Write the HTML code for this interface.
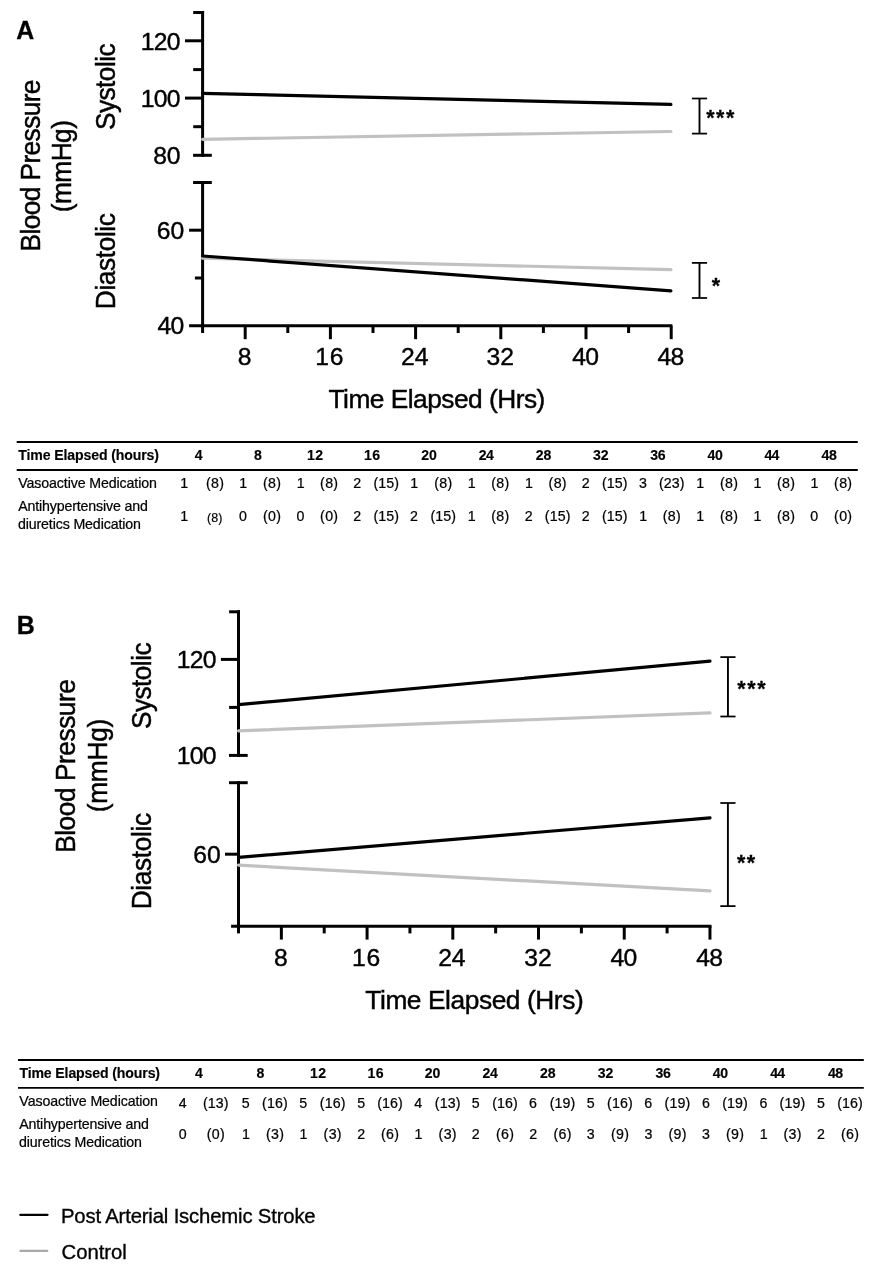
<!DOCTYPE html>
<html lang="en"><head><meta charset="utf-8"><title>Figure</title>
<style>html,body{margin:0;padding:0;background:#fff}svg{display:block}text{white-space:pre}</style>
</head><body>
<svg width="896" height="1276" viewBox="0 0 896 1276" font-family="'Liberation Sans', sans-serif" fill="#000">
<rect width="896" height="1276" fill="#fff"/>
<g opacity="0.999">
<text x="16.28" y="38.80" font-size="24.9" font-weight="bold" fill="#000" stroke="#000" stroke-width="0.30">A</text>
<line x1="202.60" y1="11.00" x2="202.60" y2="156.80" stroke="#000" stroke-width="3.0" stroke-linecap="butt"/>
<line x1="193.20" y1="12.50" x2="204.10" y2="12.50" stroke="#000" stroke-width="3.0" stroke-linecap="butt"/>
<line x1="193.10" y1="155.30" x2="211.80" y2="155.30" stroke="#000" stroke-width="3.0" stroke-linecap="butt"/>
<line x1="185.00" y1="40.80" x2="202.60" y2="40.80" stroke="#000" stroke-width="3.0" stroke-linecap="butt"/>
<line x1="185.00" y1="98.10" x2="202.60" y2="98.10" stroke="#000" stroke-width="3.0" stroke-linecap="butt"/>
<line x1="193.20" y1="69.60" x2="202.60" y2="69.60" stroke="#000" stroke-width="3.0" stroke-linecap="butt"/>
<line x1="193.20" y1="126.70" x2="202.60" y2="126.70" stroke="#000" stroke-width="3.0" stroke-linecap="butt"/>
<line x1="202.60" y1="181.00" x2="202.60" y2="327.30" stroke="#000" stroke-width="3.0" stroke-linecap="butt"/>
<line x1="193.10" y1="182.50" x2="211.80" y2="182.50" stroke="#000" stroke-width="3.0" stroke-linecap="butt"/>
<line x1="189.10" y1="230.20" x2="202.60" y2="230.20" stroke="#000" stroke-width="3.0" stroke-linecap="butt"/>
<line x1="194.90" y1="278.00" x2="202.60" y2="278.00" stroke="#000" stroke-width="3.0" stroke-linecap="butt"/>
<line x1="189.10" y1="325.80" x2="672.40" y2="325.80" stroke="#000" stroke-width="3.0" stroke-linecap="butt"/>
<line x1="202.60" y1="325.80" x2="202.60" y2="333.00" stroke="#000" stroke-width="3.0" stroke-linecap="butt"/>
<line x1="245.20" y1="325.80" x2="245.20" y2="339.20" stroke="#000" stroke-width="3.0" stroke-linecap="butt"/>
<text x="237.73" y="364.85" font-size="24.7" stroke="#000" stroke-width="0.42">8</text>
<line x1="287.80" y1="325.80" x2="287.80" y2="333.00" stroke="#000" stroke-width="3.0" stroke-linecap="butt"/>
<line x1="330.40" y1="325.80" x2="330.40" y2="339.20" stroke="#000" stroke-width="3.0" stroke-linecap="butt"/>
<text x="315.27" y="364.85" font-size="24.7" letter-spacing="0.793" stroke="#000" stroke-width="0.42">16</text>
<line x1="373.00" y1="325.80" x2="373.00" y2="333.00" stroke="#000" stroke-width="3.0" stroke-linecap="butt"/>
<line x1="415.60" y1="325.80" x2="415.60" y2="339.20" stroke="#000" stroke-width="3.0" stroke-linecap="butt"/>
<text x="401.11" y="364.85" font-size="24.7" letter-spacing="-0.208" stroke="#000" stroke-width="0.42">24</text>
<line x1="458.20" y1="325.80" x2="458.20" y2="333.00" stroke="#000" stroke-width="3.0" stroke-linecap="butt"/>
<line x1="500.80" y1="325.80" x2="500.80" y2="339.20" stroke="#000" stroke-width="3.0" stroke-linecap="butt"/>
<text x="486.61" y="364.85" font-size="24.7" letter-spacing="0.009" stroke="#000" stroke-width="0.42">32</text>
<line x1="543.40" y1="325.80" x2="543.40" y2="333.00" stroke="#000" stroke-width="3.0" stroke-linecap="butt"/>
<line x1="586.00" y1="325.80" x2="586.00" y2="339.20" stroke="#000" stroke-width="3.0" stroke-linecap="butt"/>
<text x="572.18" y="364.85" font-size="24.7" letter-spacing="-0.642" stroke="#000" stroke-width="0.42">40</text>
<line x1="628.60" y1="325.80" x2="628.60" y2="333.00" stroke="#000" stroke-width="3.0" stroke-linecap="butt"/>
<line x1="671.20" y1="325.80" x2="671.20" y2="339.20" stroke="#000" stroke-width="3.0" stroke-linecap="butt"/>
<text x="657.38" y="364.85" font-size="24.7" letter-spacing="-0.534" stroke="#000" stroke-width="0.42">48</text>
<text x="140.82" y="50.00" font-size="24.7" letter-spacing="-0.732" stroke="#000" stroke-width="0.42">120</text>
<text x="140.82" y="107.00" font-size="24.7" letter-spacing="-0.732" stroke="#000" stroke-width="0.42">100</text>
<text x="153.23" y="164.00" font-size="24.7" letter-spacing="-0.136" stroke="#000" stroke-width="0.42">80</text>
<text x="156.75" y="239.10" font-size="24.7" letter-spacing="0.045" stroke="#000" stroke-width="0.42">60</text>
<text x="157.43" y="333.70" font-size="24.7" letter-spacing="-0.642" stroke="#000" stroke-width="0.42">40</text>
<line x1="202.60" y1="139.30" x2="670.90" y2="131.50" stroke="#c1c1c1" stroke-width="3.2" stroke-linecap="round"/>
<line x1="202.60" y1="93.40" x2="670.90" y2="104.40" stroke="#000" stroke-width="3.2" stroke-linecap="round"/>
<line x1="202.60" y1="258.20" x2="670.90" y2="269.70" stroke="#c1c1c1" stroke-width="3.2" stroke-linecap="round"/>
<line x1="202.60" y1="256.00" x2="670.90" y2="290.90" stroke="#000" stroke-width="3.2" stroke-linecap="round"/>
<line x1="699.50" y1="98.50" x2="699.50" y2="133.60" stroke="#000" stroke-width="1.9" stroke-linecap="butt"/>
<line x1="691.90" y1="98.50" x2="707.10" y2="98.50" stroke="#000" stroke-width="1.75" stroke-linecap="butt"/>
<line x1="691.90" y1="133.60" x2="707.10" y2="133.60" stroke="#000" stroke-width="1.75" stroke-linecap="butt"/>
<line x1="699.50" y1="262.90" x2="699.50" y2="298.00" stroke="#000" stroke-width="1.9" stroke-linecap="butt"/>
<line x1="691.90" y1="262.90" x2="707.10" y2="262.90" stroke="#000" stroke-width="1.75" stroke-linecap="butt"/>
<line x1="691.90" y1="298.00" x2="707.10" y2="298.00" stroke="#000" stroke-width="1.75" stroke-linecap="butt"/>
<text x="706.24" y="124.80" font-size="21.5" font-weight="bold" letter-spacing="1.492" fill="#000" stroke="#000" stroke-width="0.26">***</text>
<text x="711.74" y="293.20" font-size="21.5" font-weight="bold" fill="#000" stroke="#000" stroke-width="0.26">*</text>
<text x="328.51" y="407.50" font-size="26.3" letter-spacing="-0.513" fill="#000" stroke="#000" stroke-width="0.45">Time Elapsed (Hrs)</text>
<text transform="translate(115.10,129.99) rotate(-90) scale(1,1.065)" font-size="26.3" letter-spacing="-0.575" stroke="#000" stroke-width="0.45">Systolic</text>
<text transform="translate(115.30,309.16) rotate(-90) scale(1,1.065)" font-size="26.3" letter-spacing="-0.404" stroke="#000" stroke-width="0.45">Diastolic</text>
<text transform="translate(40.00,251.46) rotate(-90) scale(1,1.065)" font-size="26.3" letter-spacing="-0.599" stroke="#000" stroke-width="0.45">Blood Pressure</text>
<text transform="translate(71.10,212.23) rotate(-90) scale(1,1.065)" font-size="26.3" letter-spacing="-0.558" stroke="#000" stroke-width="0.45">(mmHg)</text>
<text x="16.73" y="633.90" font-size="25.0" font-weight="bold" fill="#000" stroke="#000" stroke-width="0.30">B</text>
<line x1="238.50" y1="610.30" x2="238.50" y2="756.90" stroke="#000" stroke-width="3.0" stroke-linecap="butt"/>
<line x1="229.10" y1="611.80" x2="240.00" y2="611.80" stroke="#000" stroke-width="3.0" stroke-linecap="butt"/>
<line x1="229.00" y1="755.40" x2="247.70" y2="755.40" stroke="#000" stroke-width="3.0" stroke-linecap="butt"/>
<line x1="220.90" y1="659.40" x2="238.50" y2="659.40" stroke="#000" stroke-width="3.0" stroke-linecap="butt"/>
<line x1="229.10" y1="707.40" x2="238.50" y2="707.40" stroke="#000" stroke-width="3.0" stroke-linecap="butt"/>
<line x1="238.50" y1="781.20" x2="238.50" y2="927.70" stroke="#000" stroke-width="3.0" stroke-linecap="butt"/>
<line x1="229.00" y1="782.70" x2="247.70" y2="782.70" stroke="#000" stroke-width="3.0" stroke-linecap="butt"/>
<line x1="225.00" y1="854.20" x2="238.50" y2="854.20" stroke="#000" stroke-width="3.0" stroke-linecap="butt"/>
<line x1="231.10" y1="926.20" x2="711.50" y2="926.20" stroke="#000" stroke-width="3.0" stroke-linecap="butt"/>
<line x1="238.50" y1="926.20" x2="238.50" y2="933.40" stroke="#000" stroke-width="3.0" stroke-linecap="butt"/>
<line x1="281.36" y1="926.20" x2="281.36" y2="939.60" stroke="#000" stroke-width="3.0" stroke-linecap="butt"/>
<text x="273.89" y="965.70" font-size="24.7" stroke="#000" stroke-width="0.42">8</text>
<line x1="324.22" y1="926.20" x2="324.22" y2="933.40" stroke="#000" stroke-width="3.0" stroke-linecap="butt"/>
<line x1="367.08" y1="926.20" x2="367.08" y2="939.60" stroke="#000" stroke-width="3.0" stroke-linecap="butt"/>
<text x="351.95" y="965.70" font-size="24.7" letter-spacing="0.793" stroke="#000" stroke-width="0.42">16</text>
<line x1="409.94" y1="926.20" x2="409.94" y2="933.40" stroke="#000" stroke-width="3.0" stroke-linecap="butt"/>
<line x1="452.80" y1="926.20" x2="452.80" y2="939.60" stroke="#000" stroke-width="3.0" stroke-linecap="butt"/>
<text x="438.31" y="965.70" font-size="24.7" letter-spacing="-0.208" stroke="#000" stroke-width="0.42">24</text>
<line x1="495.66" y1="926.20" x2="495.66" y2="933.40" stroke="#000" stroke-width="3.0" stroke-linecap="butt"/>
<line x1="538.52" y1="926.20" x2="538.52" y2="939.60" stroke="#000" stroke-width="3.0" stroke-linecap="butt"/>
<text x="524.33" y="965.70" font-size="24.7" letter-spacing="0.009" stroke="#000" stroke-width="0.42">32</text>
<line x1="581.38" y1="926.20" x2="581.38" y2="933.40" stroke="#000" stroke-width="3.0" stroke-linecap="butt"/>
<line x1="624.24" y1="926.20" x2="624.24" y2="939.60" stroke="#000" stroke-width="3.0" stroke-linecap="butt"/>
<text x="610.42" y="965.70" font-size="24.7" letter-spacing="-0.642" stroke="#000" stroke-width="0.42">40</text>
<line x1="667.10" y1="926.20" x2="667.10" y2="933.40" stroke="#000" stroke-width="3.0" stroke-linecap="butt"/>
<line x1="709.96" y1="926.20" x2="709.96" y2="939.60" stroke="#000" stroke-width="3.0" stroke-linecap="butt"/>
<text x="696.14" y="965.70" font-size="24.7" letter-spacing="-0.534" stroke="#000" stroke-width="0.42">48</text>
<text x="176.72" y="668.00" font-size="24.7" letter-spacing="-0.732" stroke="#000" stroke-width="0.42">120</text>
<text x="176.72" y="763.90" font-size="24.7" letter-spacing="-0.732" stroke="#000" stroke-width="0.42">100</text>
<text x="193.15" y="863.10" font-size="24.7" letter-spacing="0.045" stroke="#000" stroke-width="0.42">60</text>
<line x1="238.50" y1="730.80" x2="710.00" y2="712.90" stroke="#c1c1c1" stroke-width="3.2" stroke-linecap="round"/>
<line x1="238.50" y1="704.70" x2="710.00" y2="661.20" stroke="#000" stroke-width="3.2" stroke-linecap="round"/>
<line x1="238.50" y1="865.20" x2="710.00" y2="890.90" stroke="#c1c1c1" stroke-width="3.2" stroke-linecap="round"/>
<line x1="238.50" y1="857.40" x2="710.00" y2="817.80" stroke="#000" stroke-width="3.2" stroke-linecap="round"/>
<line x1="727.95" y1="657.10" x2="727.95" y2="716.50" stroke="#000" stroke-width="1.9" stroke-linecap="butt"/>
<line x1="720.35" y1="657.10" x2="735.55" y2="657.10" stroke="#000" stroke-width="1.75" stroke-linecap="butt"/>
<line x1="720.35" y1="716.50" x2="735.55" y2="716.50" stroke="#000" stroke-width="1.75" stroke-linecap="butt"/>
<line x1="727.90" y1="803.00" x2="727.90" y2="906.10" stroke="#000" stroke-width="1.9" stroke-linecap="butt"/>
<line x1="720.30" y1="803.00" x2="735.50" y2="803.00" stroke="#000" stroke-width="1.75" stroke-linecap="butt"/>
<line x1="720.30" y1="906.10" x2="735.50" y2="906.10" stroke="#000" stroke-width="1.75" stroke-linecap="butt"/>
<text x="737.24" y="695.80" font-size="21.5" font-weight="bold" letter-spacing="1.592" fill="#000" stroke="#000" stroke-width="0.26">***</text>
<text x="737.04" y="869.50" font-size="21.5" font-weight="bold" letter-spacing="1.450" fill="#000" stroke="#000" stroke-width="0.26">**</text>
<text x="365.31" y="1009.00" font-size="26.3" letter-spacing="-0.419" fill="#000" stroke="#000" stroke-width="0.45">Time Elapsed (Hrs)</text>
<text transform="translate(151.30,729.09) rotate(-90) scale(1,1.065)" font-size="26.3" letter-spacing="-0.561" stroke="#000" stroke-width="0.45">Systolic</text>
<text transform="translate(151.30,909.26) rotate(-90) scale(1,1.065)" font-size="26.3" letter-spacing="-0.379" stroke="#000" stroke-width="0.45">Diastolic</text>
<text transform="translate(74.90,852.86) rotate(-90) scale(1,1.065)" font-size="26.3" letter-spacing="-0.460" stroke="#000" stroke-width="0.45">Blood Pressure</text>
<text transform="translate(106.60,812.23) rotate(-90) scale(1,1.065)" font-size="26.3" letter-spacing="-0.278" stroke="#000" stroke-width="0.45">(mmHg)</text>
<line x1="16.70" y1="442.00" x2="857.80" y2="442.00" stroke="#000" stroke-width="1.9" stroke-linecap="butt"/>
<line x1="16.70" y1="470.00" x2="857.80" y2="470.00" stroke="#000" stroke-width="1.9" stroke-linecap="butt"/>
<text x="18.34" y="459.80" font-size="14.1" font-weight="bold" letter-spacing="-0.129" fill="#000" stroke="#000" stroke-width="0.17">Time Elapsed (hours)</text>
<text x="18.24" y="487.90" font-size="14.2" letter-spacing="-0.112" fill="#000" stroke="#000" stroke-width="0.24">Vasoactive Medication</text>
<text x="18.17" y="510.80" font-size="14.2" letter-spacing="-0.146" fill="#000" stroke="#000" stroke-width="0.24">Antihypertensive and</text>
<text x="17.90" y="528.60" font-size="14.2" letter-spacing="-0.125" fill="#000" stroke="#000" stroke-width="0.24">diuretics Medication</text>
<text x="194.81" y="459.80" font-size="14.1" font-weight="bold" stroke="#000" stroke-width="0.17">4</text>
<text x="253.97" y="459.80" font-size="14.1" font-weight="bold" stroke="#000" stroke-width="0.17">8</text>
<text x="307.11" y="459.80" font-size="14.1" font-weight="bold" letter-spacing="0.369" stroke="#000" stroke-width="0.17">12</text>
<text x="364.11" y="459.80" font-size="14.1" font-weight="bold" letter-spacing="0.314" stroke="#000" stroke-width="0.17">16</text>
<text x="421.31" y="459.80" font-size="14.1" font-weight="bold" letter-spacing="-0.016" stroke="#000" stroke-width="0.17">20</text>
<text x="478.71" y="459.80" font-size="14.1" font-weight="bold" letter-spacing="-0.519" stroke="#000" stroke-width="0.17">24</text>
<text x="535.71" y="459.80" font-size="14.1" font-weight="bold" letter-spacing="-0.161" stroke="#000" stroke-width="0.17">28</text>
<text x="593.08" y="459.80" font-size="14.1" font-weight="bold" letter-spacing="-0.195" stroke="#000" stroke-width="0.17">32</text>
<text x="650.28" y="459.80" font-size="14.1" font-weight="bold" letter-spacing="-0.250" stroke="#000" stroke-width="0.17">36</text>
<text x="707.39" y="459.80" font-size="14.1" font-weight="bold" letter-spacing="-0.292" stroke="#000" stroke-width="0.17">40</text>
<text x="764.39" y="459.80" font-size="14.1" font-weight="bold" letter-spacing="-0.794" stroke="#000" stroke-width="0.17">44</text>
<text x="821.49" y="459.80" font-size="14.1" font-weight="bold" letter-spacing="-0.436" stroke="#000" stroke-width="0.17">48</text>
<text x="180.26" y="487.80" font-size="14.2" stroke="#000" stroke-width="0.24">1</text>
<text x="206.02" y="487.80" font-size="14.2" letter-spacing="0.303" stroke="#000" stroke-width="0.24">(8)</text>
<text x="180.26" y="521.40" font-size="14.2" stroke="#000" stroke-width="0.24">1</text>
<text x="207.12" y="522.20" font-size="12.4" stroke="#000" stroke-width="0.21">(8)</text>
<text x="239.31" y="487.80" font-size="14.2" stroke="#000" stroke-width="0.24">1</text>
<text x="263.02" y="487.80" font-size="14.2" letter-spacing="0.303" stroke="#000" stroke-width="0.24">(8)</text>
<text x="239.05" y="521.40" font-size="14.2" stroke="#000" stroke-width="0.24">0</text>
<text x="263.02" y="521.40" font-size="14.2" letter-spacing="0.303" stroke="#000" stroke-width="0.24">(0)</text>
<text x="296.71" y="487.80" font-size="14.2" stroke="#000" stroke-width="0.24">1</text>
<text x="320.12" y="487.80" font-size="14.2" letter-spacing="0.303" stroke="#000" stroke-width="0.24">(8)</text>
<text x="296.45" y="521.40" font-size="14.2" stroke="#000" stroke-width="0.24">0</text>
<text x="320.12" y="521.40" font-size="14.2" letter-spacing="0.303" stroke="#000" stroke-width="0.24">(0)</text>
<text x="353.25" y="487.80" font-size="14.2" stroke="#000" stroke-width="0.24">2</text>
<text x="373.42" y="487.80" font-size="14.2" letter-spacing="0.103" stroke="#000" stroke-width="0.24">(15)</text>
<text x="353.25" y="521.40" font-size="14.2" stroke="#000" stroke-width="0.24">2</text>
<text x="373.42" y="521.40" font-size="14.2" letter-spacing="0.103" stroke="#000" stroke-width="0.24">(15)</text>
<text x="410.31" y="487.80" font-size="14.2" stroke="#000" stroke-width="0.24">1</text>
<text x="434.22" y="487.80" font-size="14.2" letter-spacing="0.303" stroke="#000" stroke-width="0.24">(8)</text>
<text x="410.05" y="521.40" font-size="14.2" stroke="#000" stroke-width="0.24">2</text>
<text x="430.42" y="521.40" font-size="14.2" letter-spacing="0.103" stroke="#000" stroke-width="0.24">(15)</text>
<text x="467.81" y="487.80" font-size="14.2" stroke="#000" stroke-width="0.24">1</text>
<text x="491.32" y="487.80" font-size="14.2" letter-spacing="0.303" stroke="#000" stroke-width="0.24">(8)</text>
<text x="467.81" y="521.40" font-size="14.2" stroke="#000" stroke-width="0.24">1</text>
<text x="491.32" y="521.40" font-size="14.2" letter-spacing="0.303" stroke="#000" stroke-width="0.24">(8)</text>
<text x="525.11" y="487.80" font-size="14.2" stroke="#000" stroke-width="0.24">1</text>
<text x="548.62" y="487.80" font-size="14.2" letter-spacing="0.303" stroke="#000" stroke-width="0.24">(8)</text>
<text x="524.85" y="521.40" font-size="14.2" stroke="#000" stroke-width="0.24">2</text>
<text x="544.82" y="521.40" font-size="14.2" letter-spacing="0.103" stroke="#000" stroke-width="0.24">(15)</text>
<text x="581.85" y="487.80" font-size="14.2" stroke="#000" stroke-width="0.24">2</text>
<text x="601.92" y="487.80" font-size="14.2" letter-spacing="0.103" stroke="#000" stroke-width="0.24">(15)</text>
<text x="581.85" y="521.40" font-size="14.2" stroke="#000" stroke-width="0.24">2</text>
<text x="601.92" y="521.40" font-size="14.2" letter-spacing="0.103" stroke="#000" stroke-width="0.24">(15)</text>
<text x="639.09" y="487.80" font-size="14.2" stroke="#000" stroke-width="0.24">3</text>
<text x="658.92" y="487.80" font-size="14.2" letter-spacing="0.103" stroke="#000" stroke-width="0.24">(23)</text>
<text x="639.31" y="521.40" font-size="14.2" stroke="#000" stroke-width="0.24">1</text>
<text x="662.72" y="521.40" font-size="14.2" letter-spacing="0.303" stroke="#000" stroke-width="0.24">(8)</text>
<text x="696.31" y="487.80" font-size="14.2" stroke="#000" stroke-width="0.24">1</text>
<text x="720.02" y="487.80" font-size="14.2" letter-spacing="0.303" stroke="#000" stroke-width="0.24">(8)</text>
<text x="696.31" y="521.40" font-size="14.2" stroke="#000" stroke-width="0.24">1</text>
<text x="720.02" y="521.40" font-size="14.2" letter-spacing="0.303" stroke="#000" stroke-width="0.24">(8)</text>
<text x="753.51" y="487.80" font-size="14.2" stroke="#000" stroke-width="0.24">1</text>
<text x="777.02" y="487.80" font-size="14.2" letter-spacing="0.303" stroke="#000" stroke-width="0.24">(8)</text>
<text x="753.51" y="521.40" font-size="14.2" stroke="#000" stroke-width="0.24">1</text>
<text x="777.02" y="521.40" font-size="14.2" letter-spacing="0.303" stroke="#000" stroke-width="0.24">(8)</text>
<text x="810.61" y="487.80" font-size="14.2" stroke="#000" stroke-width="0.24">1</text>
<text x="834.12" y="487.80" font-size="14.2" letter-spacing="0.303" stroke="#000" stroke-width="0.24">(8)</text>
<text x="810.35" y="521.40" font-size="14.2" stroke="#000" stroke-width="0.24">0</text>
<text x="834.12" y="521.40" font-size="14.2" letter-spacing="0.303" stroke="#000" stroke-width="0.24">(0)</text>
<line x1="18.00" y1="1060.00" x2="863.80" y2="1060.00" stroke="#000" stroke-width="1.9" stroke-linecap="butt"/>
<line x1="18.00" y1="1087.90" x2="863.80" y2="1087.90" stroke="#000" stroke-width="1.9" stroke-linecap="butt"/>
<text x="19.44" y="1078.00" font-size="14.1" font-weight="bold" letter-spacing="-0.129" fill="#000" stroke="#000" stroke-width="0.17">Time Elapsed (hours)</text>
<text x="19.34" y="1105.60" font-size="14.2" letter-spacing="-0.112" fill="#000" stroke="#000" stroke-width="0.24">Vasoactive Medication</text>
<text x="19.27" y="1128.50" font-size="14.2" letter-spacing="-0.146" fill="#000" stroke="#000" stroke-width="0.24">Antihypertensive and</text>
<text x="19.00" y="1146.70" font-size="14.2" letter-spacing="-0.125" fill="#000" stroke="#000" stroke-width="0.24">diuretics Medication</text>
<text x="194.91" y="1078.00" font-size="14.1" font-weight="bold" stroke="#000" stroke-width="0.17">4</text>
<text x="256.57" y="1078.00" font-size="14.1" font-weight="bold" stroke="#000" stroke-width="0.17">8</text>
<text x="310.11" y="1078.00" font-size="14.1" font-weight="bold" letter-spacing="0.369" stroke="#000" stroke-width="0.17">12</text>
<text x="367.61" y="1078.00" font-size="14.1" font-weight="bold" letter-spacing="0.314" stroke="#000" stroke-width="0.17">16</text>
<text x="424.81" y="1078.00" font-size="14.1" font-weight="bold" letter-spacing="-0.016" stroke="#000" stroke-width="0.17">20</text>
<text x="482.61" y="1078.00" font-size="14.1" font-weight="bold" letter-spacing="-0.519" stroke="#000" stroke-width="0.17">24</text>
<text x="540.11" y="1078.00" font-size="14.1" font-weight="bold" letter-spacing="-0.161" stroke="#000" stroke-width="0.17">28</text>
<text x="597.78" y="1078.00" font-size="14.1" font-weight="bold" letter-spacing="-0.195" stroke="#000" stroke-width="0.17">32</text>
<text x="655.38" y="1078.00" font-size="14.1" font-weight="bold" letter-spacing="-0.250" stroke="#000" stroke-width="0.17">36</text>
<text x="712.79" y="1078.00" font-size="14.1" font-weight="bold" letter-spacing="-0.292" stroke="#000" stroke-width="0.17">40</text>
<text x="770.19" y="1078.00" font-size="14.1" font-weight="bold" letter-spacing="-0.794" stroke="#000" stroke-width="0.17">44</text>
<text x="827.89" y="1078.00" font-size="14.1" font-weight="bold" letter-spacing="-0.436" stroke="#000" stroke-width="0.17">48</text>
<text x="178.80" y="1108.30" font-size="14.2" stroke="#000" stroke-width="0.24">4</text>
<text x="203.02" y="1108.30" font-size="14.2" letter-spacing="0.103" stroke="#000" stroke-width="0.24">(13)</text>
<text x="178.75" y="1138.50" font-size="14.2" stroke="#000" stroke-width="0.24">0</text>
<text x="206.82" y="1138.50" font-size="14.2" letter-spacing="0.303" stroke="#000" stroke-width="0.24">(0)</text>
<text x="241.67" y="1108.30" font-size="14.2" stroke="#000" stroke-width="0.24">5</text>
<text x="262.12" y="1108.30" font-size="14.2" letter-spacing="0.103" stroke="#000" stroke-width="0.24">(16)</text>
<text x="241.91" y="1138.50" font-size="14.2" stroke="#000" stroke-width="0.24">1</text>
<text x="265.92" y="1138.50" font-size="14.2" letter-spacing="0.303" stroke="#000" stroke-width="0.24">(3)</text>
<text x="299.37" y="1108.30" font-size="14.2" stroke="#000" stroke-width="0.24">5</text>
<text x="319.82" y="1108.30" font-size="14.2" letter-spacing="0.103" stroke="#000" stroke-width="0.24">(16)</text>
<text x="299.61" y="1138.50" font-size="14.2" stroke="#000" stroke-width="0.24">1</text>
<text x="323.62" y="1138.50" font-size="14.2" letter-spacing="0.303" stroke="#000" stroke-width="0.24">(3)</text>
<text x="357.17" y="1108.30" font-size="14.2" stroke="#000" stroke-width="0.24">5</text>
<text x="377.22" y="1108.30" font-size="14.2" letter-spacing="0.103" stroke="#000" stroke-width="0.24">(16)</text>
<text x="357.15" y="1138.50" font-size="14.2" stroke="#000" stroke-width="0.24">2</text>
<text x="381.02" y="1138.50" font-size="14.2" letter-spacing="0.303" stroke="#000" stroke-width="0.24">(6)</text>
<text x="414.30" y="1108.30" font-size="14.2" stroke="#000" stroke-width="0.24">4</text>
<text x="434.82" y="1108.30" font-size="14.2" letter-spacing="0.103" stroke="#000" stroke-width="0.24">(13)</text>
<text x="414.51" y="1138.50" font-size="14.2" stroke="#000" stroke-width="0.24">1</text>
<text x="438.62" y="1138.50" font-size="14.2" letter-spacing="0.303" stroke="#000" stroke-width="0.24">(3)</text>
<text x="471.87" y="1108.30" font-size="14.2" stroke="#000" stroke-width="0.24">5</text>
<text x="492.22" y="1108.30" font-size="14.2" letter-spacing="0.103" stroke="#000" stroke-width="0.24">(16)</text>
<text x="471.85" y="1138.50" font-size="14.2" stroke="#000" stroke-width="0.24">2</text>
<text x="496.02" y="1138.50" font-size="14.2" letter-spacing="0.303" stroke="#000" stroke-width="0.24">(6)</text>
<text x="529.10" y="1108.30" font-size="14.2" stroke="#000" stroke-width="0.24">6</text>
<text x="549.72" y="1108.30" font-size="14.2" letter-spacing="0.103" stroke="#000" stroke-width="0.24">(19)</text>
<text x="529.15" y="1138.50" font-size="14.2" stroke="#000" stroke-width="0.24">2</text>
<text x="553.52" y="1138.50" font-size="14.2" letter-spacing="0.303" stroke="#000" stroke-width="0.24">(6)</text>
<text x="586.77" y="1108.30" font-size="14.2" stroke="#000" stroke-width="0.24">5</text>
<text x="607.12" y="1108.30" font-size="14.2" letter-spacing="0.103" stroke="#000" stroke-width="0.24">(16)</text>
<text x="586.79" y="1138.50" font-size="14.2" stroke="#000" stroke-width="0.24">3</text>
<text x="610.92" y="1138.50" font-size="14.2" letter-spacing="0.303" stroke="#000" stroke-width="0.24">(9)</text>
<text x="644.30" y="1108.30" font-size="14.2" stroke="#000" stroke-width="0.24">6</text>
<text x="664.62" y="1108.30" font-size="14.2" letter-spacing="0.103" stroke="#000" stroke-width="0.24">(19)</text>
<text x="644.39" y="1138.50" font-size="14.2" stroke="#000" stroke-width="0.24">3</text>
<text x="668.42" y="1138.50" font-size="14.2" letter-spacing="0.303" stroke="#000" stroke-width="0.24">(9)</text>
<text x="702.00" y="1108.30" font-size="14.2" stroke="#000" stroke-width="0.24">6</text>
<text x="722.22" y="1108.30" font-size="14.2" letter-spacing="0.103" stroke="#000" stroke-width="0.24">(19)</text>
<text x="702.09" y="1138.50" font-size="14.2" stroke="#000" stroke-width="0.24">3</text>
<text x="726.02" y="1138.50" font-size="14.2" letter-spacing="0.303" stroke="#000" stroke-width="0.24">(9)</text>
<text x="759.50" y="1108.30" font-size="14.2" stroke="#000" stroke-width="0.24">6</text>
<text x="779.62" y="1108.30" font-size="14.2" letter-spacing="0.103" stroke="#000" stroke-width="0.24">(19)</text>
<text x="759.81" y="1138.50" font-size="14.2" stroke="#000" stroke-width="0.24">1</text>
<text x="783.42" y="1138.50" font-size="14.2" letter-spacing="0.303" stroke="#000" stroke-width="0.24">(3)</text>
<text x="816.97" y="1108.30" font-size="14.2" stroke="#000" stroke-width="0.24">5</text>
<text x="837.22" y="1108.30" font-size="14.2" letter-spacing="0.103" stroke="#000" stroke-width="0.24">(16)</text>
<text x="816.95" y="1138.50" font-size="14.2" stroke="#000" stroke-width="0.24">2</text>
<text x="841.02" y="1138.50" font-size="14.2" letter-spacing="0.303" stroke="#000" stroke-width="0.24">(6)</text>
<line x1="20.30" y1="1214.80" x2="47.50" y2="1214.80" stroke="#000" stroke-width="2.3" stroke-linecap="round"/>
<line x1="20.40" y1="1250.90" x2="47.30" y2="1250.90" stroke="#a8a8b2" stroke-width="2.1" stroke-linecap="round"/>
<text x="60.93" y="1222.50" font-size="20.3" letter-spacing="-0.161" fill="#000" stroke="#000" stroke-width="0.35">Post Arterial Ischemic Stroke</text>
<text x="61.57" y="1258.70" font-size="20.3" letter-spacing="-0.025" fill="#000" stroke="#000" stroke-width="0.35">Control</text>
</g>
</svg>
</body></html>
